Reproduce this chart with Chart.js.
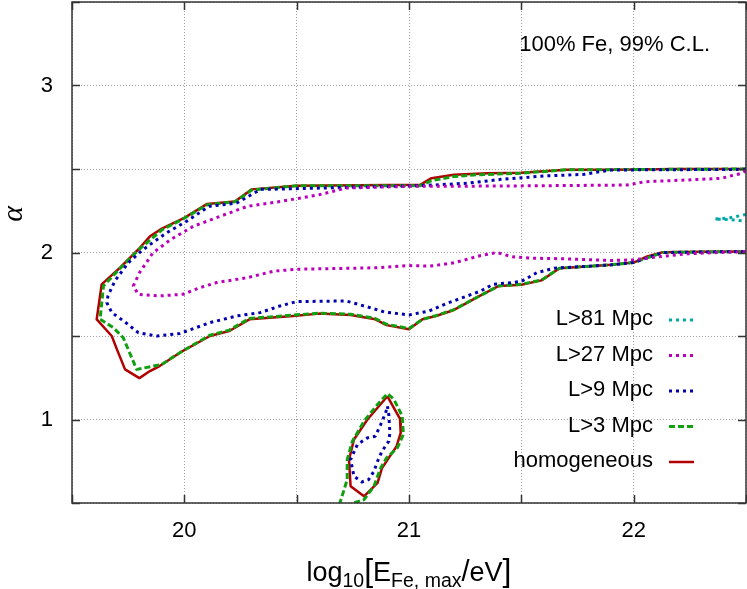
<!DOCTYPE html>
<html>
<head>
<meta charset="utf-8">
<script src="https://cdn.jsdelivr.net/npm/chart.js@4.4.1/dist/chart.umd.min.js"></script>
<style>
  body { margin: 0; background: #fff; }
  canvas { display: block; }
</style>
</head>
<body>
<canvas id="myChart" width="747" height="589"></canvas>
<script>
// contour pieces, [log10 Emax, alpha]
var homMain = [[22.5,2.50],[22.2,2.50],[21.9,2.495],[21.7,2.495],[21.5,2.478],[21.35,2.475],[21.2,2.465],[21.1,2.445],[21.05,2.405],[20.5,2.40],[20.3,2.378],[20.225,2.306],[20.1,2.29],[20.0,2.207],[19.9,2.143],[19.847,2.097],[19.795,2.018],[19.714,1.909],[19.632,1.809],[19.61,1.60],[19.677,1.50],[19.70,1.42],[19.736,1.30],[19.80,1.248],[19.847,1.29],[19.89,1.32],[19.98,1.40],[20.114,1.50],[20.20,1.53],[20.29,1.60],[20.485,1.62],[20.60,1.634],[20.74,1.626],[20.85,1.60],[20.90,1.565],[21.0,1.54],[21.06,1.60],[21.12,1.62],[21.2,1.656],[21.26,1.70],[21.30,1.73],[21.40,1.80],[21.5,1.807],[21.59,1.833],[21.67,1.906],[21.79,1.916],[21.9,1.926],[22.0,1.94],[22.06,1.976],[22.13,2.002],[22.3,2.004],[22.5,2.006]];
var homIsland = [[20.904,1.139],[20.96,1.004],[20.963,0.92],[20.945,0.84],[20.91,0.77],[20.88,0.71],[20.86,0.62],[20.80,0.54],[20.74,0.60],[20.733,0.76],[20.755,0.88],[20.815,1.0],[20.904,1.139]];

var l3Main = [[22.5,2.50],[21.7,2.495],[21.5,2.475],[21.3,2.465],[21.2,2.455],[21.1,2.43],[21.05,2.40],[20.5,2.40],[20.3,2.374],[20.225,2.304],[20.1,2.285],[20.0,2.205],[19.9,2.135],[19.8,2.02],[19.714,1.905],[19.64,1.80],[19.625,1.60],[19.684,1.55],[19.728,1.49],[19.788,1.30],[19.862,1.32],[19.9,1.33],[19.98,1.40],[20.114,1.505],[20.20,1.535],[20.29,1.605],[20.485,1.625],[20.60,1.637],[20.74,1.63],[20.85,1.605],[20.90,1.57],[21.0,1.545],[21.06,1.60],[21.12,1.622],[21.2,1.658],[21.3,1.73],[21.40,1.80],[21.5,1.81],[21.59,1.835],[21.67,1.906],[21.9,1.926],[22.0,1.94],[22.13,2.0],[22.5,2.006]];
var l3Island = [[20.69,0.49],[20.725,0.64],[20.725,0.76],[20.748,0.87],[20.80,0.99],[20.86,1.09],[20.904,1.155],[20.933,1.12],[20.97,1.02],[20.975,0.91],[20.948,0.83],[20.90,0.77],[20.874,0.71],[20.844,0.60],[20.80,0.52],[20.74,0.495]];

var l9Main = [[22.5,2.498],[21.9,2.494],[21.85,2.484],[21.78,2.468],[21.6,2.458],[21.41,2.438],[21.26,2.415],[21.05,2.40],[20.43,2.38],[20.34,2.378],[20.233,2.296],[20.11,2.276],[20.01,2.187],[19.92,2.117],[19.817,2.018],[19.75,1.938],[19.69,1.828],[19.66,1.739],[19.655,1.70],[19.677,1.64],[19.73,1.59],[19.795,1.52],[19.877,1.50],[19.98,1.515],[20.114,1.58],[20.233,1.62],[20.337,1.64],[20.426,1.68],[20.50,1.706],[20.72,1.71],[20.81,1.676],[20.89,1.644],[21.0,1.626],[21.09,1.65],[21.17,1.696],[21.26,1.74],[21.32,1.77],[21.375,1.81],[21.46,1.82],[21.5,1.827],[21.57,1.88],[21.646,1.906],[21.9,1.926],[22.0,1.94],[22.13,2.0],[22.5,2.006]];
var l9Island = [[20.904,1.08],[20.91,1.03],[20.915,0.92],[20.91,0.87],[20.88,0.81],[20.86,0.75],[20.844,0.69],[20.82,0.64],[20.79,0.626],[20.755,0.66],[20.74,0.76],[20.77,0.85],[20.815,0.89],[20.85,0.90],[20.874,0.97],[20.896,1.04],[20.904,1.08]];

var l27Main = [[22.5,2.49],[22.48,2.474],[22.43,2.458],[22.39,2.444],[22.23,2.434],[22.05,2.424],[21.97,2.404],[21.41,2.398],[21.0,2.396],[20.72,2.386],[20.60,2.346],[20.43,2.306],[20.28,2.276],[20.16,2.217],[20.04,2.157],[19.94,2.078],[19.86,1.998],[19.80,1.878],[19.773,1.80],[19.795,1.749],[19.89,1.74],[19.995,1.75],[20.07,1.79],[20.144,1.82],[20.28,1.849],[20.40,1.889],[20.51,1.90],[20.87,1.909],[21.0,1.922],[21.09,1.918],[21.2,1.938],[21.32,1.982],[21.39,2.0],[21.46,1.974],[21.54,1.966],[21.7,1.962],[21.9,1.952],[22.0,1.956],[22.12,1.976],[22.24,1.992],[22.3,1.996],[22.5,2.006]];

var l81Main = [[22.5,2.228],[22.43,2.208],[22.36,2.2],[22.43,2.197],[22.5,2.188]];

var seriesNames = ['L>81 Mpc', 'L>27 Mpc', 'L>9 Mpc', 'L>3 Mpc', 'homogeneous'];
var xTicks = [20, 21, 22];
var yTicks = [1, 2, 3];

function toPoints() {
    var out = [];
    for (var i = 0; i < arguments.length; i++) {
        if (i > 0) out.push({x: null, y: null});
        arguments[i].forEach(function (p) { out.push({x: p[0], y: p[1]}); });
    }
    return out;
}

var FONT = "'Liberation Sans', Arial, sans-serif";

var framePlugin = {
    id: 'frame',
    afterDraw: function (chart) {
        var ctx = chart.ctx, a = chart.chartArea;
        var xs = chart.scales.x, ys = chart.scales.y;
        ctx.save();
        // inward ticks
        ctx.strokeStyle = '#333';
        ctx.lineWidth = 1.5;
        ctx.beginPath();
        xs.ticks.forEach(function (t) {
            var px = Math.round(xs.getPixelForValue(t.value)) + 0.5;
            ctx.moveTo(px, a.bottom); ctx.lineTo(px, a.bottom - 8);
            ctx.moveTo(px, a.top); ctx.lineTo(px, a.top + 8);
        });
        ys.ticks.forEach(function (t) {
            var py = Math.round(ys.getPixelForValue(t.value)) + 0.5;
            ctx.moveTo(a.left, py); ctx.lineTo(a.left + 8, py);
            ctx.moveTo(a.right, py); ctx.lineTo(a.right - 8, py);
        });
        ctx.stroke();
        ctx.strokeRect(a.left, a.top, a.right - a.left, a.bottom - a.top);

        // annotation
        ctx.fillStyle = '#000';
        ctx.font = '22px ' + FONT;
        ctx.textAlign = 'right';
        ctx.textBaseline = 'middle';
        ctx.fillText('100% Fe, 99% C.L.', 710, 45);

        // legend inside the plot
        var ds = chart.data.datasets;
        for (var i = 0; i < ds.length; i++) {
            var y = 319 + i * 35.5;
            ctx.fillStyle = '#000';
            ctx.fillText(ds[i].label, 653, y);
            ctx.strokeStyle = ds[i].borderColor;
            ctx.lineWidth = ds[i].borderWidth;
            ctx.setLineDash(ds[i].borderDash || []);
            ctx.beginPath();
            ctx.moveTo(669, y + 1); ctx.lineTo(694, y + 1);
            ctx.stroke();
            ctx.setLineDash([]);
        }

        // x title with subscripts
        var parts = [['log', 27, 0], ['10', 19.5, 6], ['[', 32, 0], ['E', 27, 0], ['Fe, max', 19.5, 6], ['/', 29, 0], ['eV', 27, 0], [']', 32, 0]];
        var total = 0;
        parts.forEach(function (p) { ctx.font = p[1] + 'px ' + FONT; p.push(ctx.measureText(p[0]).width); total += p[3]; });
        var cx = (a.left + a.right) / 2 - total / 2;
        ctx.textAlign = 'left';
        ctx.textBaseline = 'alphabetic';
        parts.forEach(function (p) {
            ctx.font = p[1] + 'px ' + FONT;
            ctx.fillText(p[0], cx, 581 + p[2]);
            cx += p[3];
        });

        // y title
        ctx.translate(14, 214);
        ctx.rotate(-Math.PI / 2);
        ctx.font = "italic 30px 'Liberation Serif', 'DejaVu Serif', serif";
        ctx.textAlign = 'center';
        ctx.textBaseline = 'middle';
        ctx.fillText('α', 0, 0);
        ctx.restore();
    }
};

function line(label, pts, color, width, dash) {
    return {
        label: label,
        data: pts,
        showLine: true,
        borderColor: color,
        backgroundColor: color,
        borderWidth: width,
        borderDash: dash,
        borderCapStyle: 'butt',
        borderJoinStyle: 'round',
        pointRadius: 0,
        fill: false,
        tension: 0,
        clip: 0
    };
}

function drawChart() {
    var ctx = document.getElementById('myChart').getContext('2d');
    new Chart(ctx, {
        type: 'scatter',
        data: {
            datasets: [
                line(seriesNames[0], toPoints(l81Main), '#00a8a8', 3, [3, 4]),
                line(seriesNames[1], toPoints(l27Main), '#bb00bb', 3, [3, 4]),
                line(seriesNames[2], toPoints(l9Main, l9Island), '#0000b0', 3, [3, 4]),
                line(seriesNames[3], toPoints(l3Main, l3Island), '#10a010', 3, [6, 3]),
                line(seriesNames[4], toPoints(homMain, homIsland), '#b00000', 2.5, [])
            ]
        },
        options: {
            responsive: false,
            animation: false,
            events: [],
            layout: { padding: { top: 2, right: 1, left: 0, bottom: 0 } },
            plugins: {
                legend: { display: false },
                tooltip: { enabled: false }
            },
            scales: {
                x: {
                    type: 'linear',
                    min: 19.5,
                    max: 22.5,
                    afterFit: function (s) { s.height = 86; s.paddingLeft = 0; s.paddingRight = 0; },
                    ticks: {
                        stepSize: 0.5,
                        padding: 15,
                        color: '#000',
                        font: { family: FONT, size: 22 },
                        maxRotation: 0,
                        autoSkip: false,
                        callback: function (v) { return xTicks.indexOf(v) >= 0 ? String(v) : ''; }
                    },
                    grid: { color: '#a0a0a0', lineWidth: 1, drawTicks: false },
                    border: { display: false, dash: [1, 2] }
                },
                y: {
                    type: 'linear',
                    min: 0.5,
                    max: 3.5,
                    afterFit: function (s) { s.width = 72; s.paddingTop = 0; s.paddingBottom = 0; },
                    ticks: {
                        stepSize: 0.5,
                        padding: 19,
                        color: '#000',
                        font: { family: FONT, size: 22 },
                        autoSkip: false,
                        callback: function (v) { return yTicks.indexOf(v) >= 0 ? String(v) : ''; }
                    },
                    grid: { color: '#a0a0a0', lineWidth: 1, drawTicks: false },
                    border: { display: false, dash: [1, 2] }
                }
            }
        },
        plugins: [framePlugin]
    });
}
drawChart();
</script>
</body>
</html>
